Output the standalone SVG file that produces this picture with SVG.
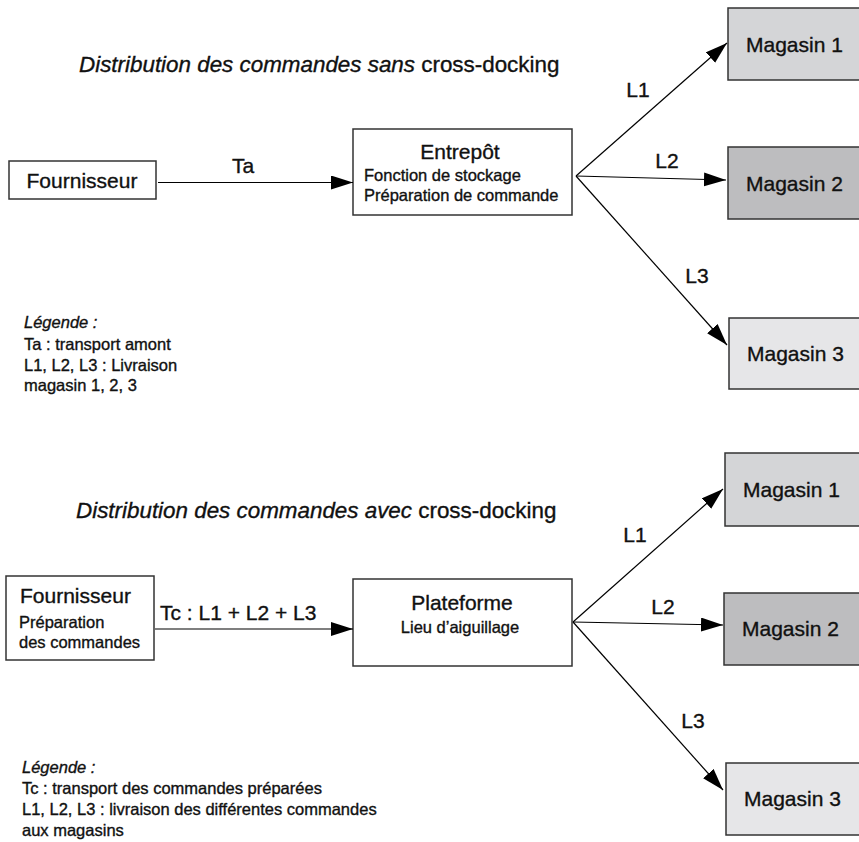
<svg xmlns="http://www.w3.org/2000/svg" width="859" height="842" viewBox="0 0 859 842">
<defs>
<marker id="arr" markerUnits="userSpaceOnUse" markerWidth="24" markerHeight="16" refX="22" refY="7" orient="auto">
<path d="M0,0 L22,7 L0,14 Z" fill="#000"/>
</marker>
<style>
text{font-family:"Liberation Sans",Arial,sans-serif;fill:#111;stroke:#111;stroke-width:0.35;}
.box{fill:#fff;stroke:#333;stroke-width:1.5;}
.m1{fill:#d4d5d7;stroke:#333;stroke-width:1.5;}
.m2{fill:#bdbdbf;stroke:#333;stroke-width:1.5;}
.m3{fill:#e6e6e8;stroke:#333;stroke-width:1.5;}
.big{font-size:21px;}
.mid{font-size:16.5px;}
.title{font-size:22.4px;}
.it{font-style:italic;}
.c{text-anchor:middle;}
.ln{stroke:#000;stroke-width:1.2;fill:none;marker-end:url(#arr);}
</style>
</defs>

<text class="title" x="79" y="72"><tspan class="it">Distribution des commandes sans</tspan> cross-docking</text>

<g id="fournisseur1">
<rect class="box" x="9" y="161" width="147" height="38"/>
<text class="big c" x="82" y="188">Fournisseur</text>
</g>
<g id="entrepot">
<rect class="box" x="353" y="129" width="219" height="86"/>
<text class="big c" x="460" y="159">Entrepôt</text>
<text class="mid" x="364" y="181">Fonction de stockage</text>
<text class="mid" x="364" y="201">Préparation de commande</text>
</g>
<g id="magasin1a">
<rect class="m1" x="728" y="8" width="140" height="72"/>
<text class="big" x="746" y="52">Magasin 1</text>
</g>
<g id="magasin2a">
<rect class="m2" x="728" y="147" width="140" height="72"/>
<text class="big" x="746" y="191">Magasin 2</text>
</g>
<g id="magasin3a">
<rect class="m3" x="729" y="318" width="140" height="71"/>
<text class="big" x="747" y="361">Magasin 3</text>
</g>

<g id="connectors1">
<line class="ln" x1="158" y1="182.5" x2="353" y2="182.5"/>
<line class="ln" x1="576" y1="176" x2="727" y2="43"/>
<line class="ln" x1="576" y1="176" x2="726" y2="180"/>
<line class="ln" x1="576" y1="176" x2="727" y2="345"/>
<text class="big c" x="243" y="173">Ta</text>
<text class="big c" x="638" y="97">L1</text>
<text class="big c" x="667" y="168">L2</text>
<text class="big c" x="697" y="283">L3</text>
</g>

<g id="legende1">
<text class="mid it" x="24" y="328">Légende :</text>
<text class="mid" x="24" y="350">Ta : transport amont</text>
<text class="mid" x="24" y="371">L1, L2, L3 : Livraison</text>
<text class="mid" x="24" y="391">magasin 1, 2, 3</text>
</g>

<text class="title" x="76" y="518"><tspan class="it">Distribution des commandes avec</tspan> cross-docking</text>

<g id="fournisseur2">
<rect class="box" x="6" y="576" width="148" height="84"/>
<text class="big" x="20" y="603">Fournisseur</text>
<text class="mid" x="19" y="628">Préparation</text>
<text class="mid" x="19" y="648">des commandes</text>
</g>
<g id="plateforme">
<rect class="box" x="353" y="579" width="219" height="87"/>
<text class="big c" x="462" y="610">Plateforme</text>
<text class="mid c" x="460" y="633">Lieu d’aiguillage</text>
</g>
<g id="magasin1b">
<rect class="m1" x="725" y="453" width="140" height="73"/>
<text class="big" x="743" y="497">Magasin 1</text>
</g>
<g id="magasin2b">
<rect class="m2" x="724" y="593" width="140" height="72"/>
<text class="big" x="742" y="636">Magasin 2</text>
</g>
<g id="magasin3b">
<rect class="m3" x="726" y="763" width="140" height="72"/>
<text class="big" x="744" y="806">Magasin 3</text>
</g>

<g id="connectors2">
<line class="ln" x1="155" y1="629" x2="353" y2="629"/>
<line class="ln" x1="573" y1="622" x2="723" y2="489"/>
<line class="ln" x1="573" y1="622" x2="723" y2="625"/>
<line class="ln" x1="573" y1="622" x2="723" y2="790"/>
<text class="big" x="160" y="620">Tc : L1 + L2 + L3</text>
<text class="big c" x="635" y="542">L1</text>
<text class="big c" x="663" y="614">L2</text>
<text class="big c" x="693" y="728">L3</text>
</g>

<g id="legende2">
<text class="mid it" x="22" y="773">Légende :</text>
<text class="mid" x="22" y="794">Tc : transport des commandes préparées</text>
<text class="mid" x="22" y="815">L1, L2, L3 : livraison des différentes commandes</text>
<text class="mid" x="22" y="836">aux magasins</text>
</g>
</svg>
